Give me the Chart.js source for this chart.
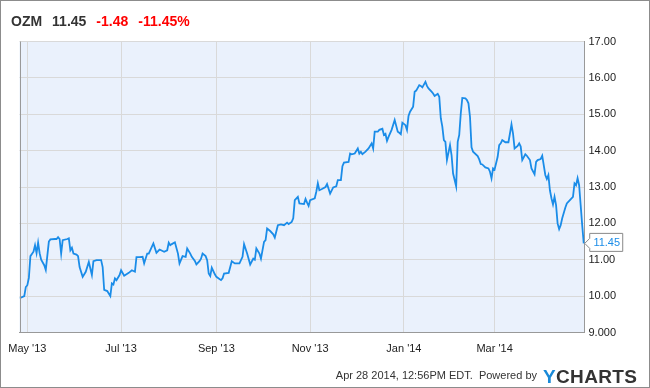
<!DOCTYPE html>
<html>
<head>
<meta charset="utf-8">
<script src="https://cdn.jsdelivr.net/npm/chart.js@4.4.1/dist/chart.umd.min.js"></script>
<style>
  html, body { margin: 0; padding: 0; background: #fff; }
  #wrap { width: 650px; height: 388px; position: relative; }
  canvas { display: block; }
</style>
</head>
<body>
<div id="wrap"><canvas id="c" width="650" height="388"></canvas></div>
<script>
// ---- data (x = days since May 1 2013) ----
const ticker = 'OZM';
const lastPrice = '11.45';
const change = '-1.48';
const changePct = '-11.45%';
const footerText = 'Apr 28 2014, 12:56PM EDT.  Powered by';

const days = [-5,-2,-1,0,1,2,4,5,6,7,8,9,11,12,14,15,18,19,20,21,22,23,26,27,28,29,30,32,33,34,36,38,40,42,43,45,48,49,50,52,54,55,56,57,58,60,61,63,66,68,70,71,73,75,76,78,79,82,84,86,87,89,91,92,93,94,96,98,99,101,103,104,106,107,109,110,112,113,114,116,117,118,119,120,122,123,126,127,128,131,133,135,138,140,141,143,145,147,148,149,151,152,154,155,156,158,160,161,163,165,167,169,170,172,173,174,176,177,180,181,182,183,184,187,188,189,190,192,194,195,197,199,201,202,204,205,206,209,210,211,213,215,216,217,218,220,222,224,225,226,228,229,231,232,233,234,235,237,239,241,242,243,244,246,247,248,249,251,252,253,255,256,257,259,260,261,263,264,265,267,268,269,270,271,272,273,275,276,277,279,280,281,282,283,285,286,287,288,289,290,293,294,295,296,298,300,301,302,303,304,306,307,308,309,311,313,314,315,316,317,319,320,321,322,324,325,327,328,330,331,332,334,335,337,338,339,340,341,342,343,344,345,346,347,348,350,351,353,355,356,357,358,359,360,361,362];

const prices = [9.94,10.0,10.25,10.3,10.5,11.1,11.22,11.4,11.18,11.47,11.18,11.0,10.85,10.72,11.5,11.56,11.57,11.57,11.62,11.57,11.17,11.54,11.57,11.59,11.26,11.33,11.17,11.14,11.1,10.8,10.53,10.67,10.94,10.58,10.96,10.99,10.99,10.8,10.17,10.14,10.0,10.35,10.32,10.49,10.44,10.58,10.71,10.56,10.64,10.71,10.67,11.07,11.07,11.08,10.9,11.17,11.17,11.45,11.19,11.28,11.26,11.22,11.26,11.47,11.4,11.43,11.48,11.17,10.9,11.1,11.08,11.31,11.17,11.08,10.97,10.87,10.96,11.03,11.17,11.1,10.99,10.62,10.55,10.78,10.6,10.53,10.44,10.49,10.62,10.64,10.96,10.9,10.9,11.08,11.43,11.17,10.87,11.03,11.0,11.31,11.17,11.03,11.49,11.54,11.86,11.79,11.7,11.61,11.95,11.97,11.95,12.02,11.98,12.04,12.14,12.64,12.73,12.55,12.53,12.67,12.57,12.48,12.64,12.69,12.87,13.1,12.91,12.95,13.0,13.08,12.82,12.99,13.02,13.19,13.19,13.57,13.67,13.69,13.92,13.9,13.92,14.06,13.92,13.97,13.9,13.97,14.06,14.2,14.06,14.52,14.52,14.57,14.6,14.43,14.46,14.27,14.38,14.57,14.84,14.52,14.49,14.45,14.77,14.7,14.57,14.95,15.07,15.21,15.62,15.65,15.8,15.78,15.74,15.89,15.78,15.71,15.62,15.57,15.5,15.56,15.48,14.89,14.66,14.29,14.24,13.74,14.15,13.88,13.37,13.02,14.24,14.43,15.02,15.45,15.44,15.39,15.3,14.93,14.09,13.97,13.85,13.76,13.63,13.62,13.54,13.51,13.42,13.24,13.51,13.48,13.83,14.15,14.2,14.29,14.23,14.23,14.47,14.72,14.47,14.06,14.13,14.2,14.11,13.74,13.9,13.86,13.74,13.51,13.35,13.69,13.74,13.77,13.86,13.33,13.22,13.33,12.91,12.69,12.52,12.73,12.5,12.0,11.84,11.95,12.14,12.43,12.55,12.64,12.73,13.1,13.05,13.24,13.05,12.5,11.95,11.45];

const xTickDays = [0, 61, 123, 184, 245, 304];
const xTickLabels = ["May '13", "Jul '13", "Sep '13", "Nov '13", "Jan '14", "Mar '14"];
const yTickValues = [9, 10, 11, 12, 13, 14, 15, 16, 17];
const yTickLabels = ['9.000', '10.00', '11.00', '12.00', '13.00', '14.00', '15.00', '16.00', '17.00'];

const FONT = '"Liberation Sans", Arial, sans-serif';

const decorPlugin = {
  id: 'decor',
  beforeDraw(chart) {
    const { ctx, chartArea: a } = chart;
    ctx.save();
    ctx.fillStyle = '#fff';
    ctx.fillRect(0, 0, chart.width, chart.height);
    ctx.fillStyle = '#eaf1fc';
    ctx.fillRect(a.left, a.top, a.right - a.left, a.bottom - a.top);
    ctx.restore();
  },
  afterDraw(chart) {
    const { ctx, chartArea: a } = chart;
    ctx.save();
    // left border of plot
    ctx.strokeStyle = '#999';
    ctx.lineWidth = 1;
    ctx.beginPath();
    ctx.moveTo(Math.round(a.left) + 0.5, a.top);
    ctx.lineTo(Math.round(a.left) + 0.5, a.bottom);
    ctx.stroke();
    // outer frame
    ctx.strokeStyle = '#8c8c8c';
    ctx.strokeRect(0.5, 0.5, chart.width - 1, chart.height - 1);

    // title
    ctx.font = 'bold 14px ' + FONT;
    ctx.textBaseline = 'alphabetic';
    ctx.textAlign = 'left';
    const parts = [[ticker, '#333'], [lastPrice, '#333'], [change, '#ff0000'], [changePct, '#ff0000']];
    let x = 11;
    parts.forEach(([t, c]) => {
      ctx.fillStyle = c;
      ctx.fillText(t, x, 26);
      x += ctx.measureText(t).width + 10;
    });

    // footer
    ctx.font = '11px ' + FONT;
    ctx.fillStyle = '#333';
    ctx.textAlign = 'right';
    ctx.fillText(footerText, 537, 379);
    ctx.textAlign = 'left';
    ctx.font = 'bold 19px ' + FONT;
    const logo = 'YCHARTS';
    let lx = 543;
    for (let i = 0; i < logo.length; i++) {
      ctx.fillStyle = i === 0 ? '#1a8ad8' : '#333';
      ctx.fillText(logo[i], lx, 383);
      lx += ctx.measureText(logo[i]).width + 0.35;
    }

    // last value callout
    const xs = chart.scales.x, ys = chart.scales.y;
    const px = xs.getPixelForValue(days[days.length - 1]);
    const py = ys.getPixelForValue(prices[prices.length - 1]);
    const bx = px + 6, bw = 33, top = py - 10, bot = py + 8;
    ctx.beginPath();
    ctx.moveTo(px + 1, py);
    ctx.lineTo(bx, py - 5);
    ctx.lineTo(bx, top);
    ctx.lineTo(bx + bw, top);
    ctx.lineTo(bx + bw, bot);
    ctx.lineTo(bx, bot);
    ctx.lineTo(bx, py + 5);
    ctx.closePath();
    ctx.fillStyle = '#fff';
    ctx.fill();
    ctx.strokeStyle = '#888';
    ctx.lineWidth = 1;
    ctx.stroke();
    ctx.font = '11px ' + FONT;
    ctx.fillStyle = '#1a8ce8';
    ctx.textAlign = 'center';
    ctx.textBaseline = 'middle';
    ctx.fillText(lastPrice, bx + bw / 2 + 0.5, (top + bot) / 2 + 0.5);
    ctx.restore();
  }
};

new Chart(document.getElementById('c'), {
  type: 'line',
  data: {
    datasets: [{
      data: days.map((d, i) => ({ x: d, y: prices[i] })),
      borderColor: '#1a8ce8',
      borderWidth: 1.8,
      pointRadius: 0,
      tension: 0,
      fill: false
    }]
  },
  options: {
    responsive: false,
    animation: false,
    events: [],
    layout: { padding: { left: 19.5, top: 41.5, right: 0, bottom: 0 } },
    plugins: { legend: { display: false }, tooltip: { enabled: false }, title: { display: false } },
    scales: {
      x: {
        type: 'linear',
        min: -5.1,
        max: 362.5,
        afterBuildTicks(scale) { scale.ticks = xTickDays.map(v => ({ value: v })); },
        afterFit(scale) { scale.height = 388 - 332.5; scale.paddingLeft = 0; scale.paddingRight = 0; },
        grid: { color: '#d9d9d9', drawTicks: false, lineWidth: 1 },
        border: { color: '#999', width: 1 },
        ticks: {
          autoSkip: false, maxRotation: 0, padding: 10,
          color: '#222', font: { family: FONT, size: 11 },
          callback: (v) => { const i = xTickDays.indexOf(v); return i >= 0 ? xTickLabels[i] : ''; }
        }
      },
      y: {
        position: 'right',
        min: 9,
        max: 17,
        afterBuildTicks(scale) { scale.ticks = yTickValues.map(v => ({ value: v })); },
        afterFit(scale) { scale.width = 650 - 584.5; scale.paddingTop = 0; scale.paddingBottom = 0; },
        grid: { color: '#d9d9d9', drawTicks: false, lineWidth: 1 },
        border: { color: '#999', width: 1 },
        ticks: {
          padding: 4,
          color: '#222', font: { family: FONT, size: 11 },
          callback: (v) => { const i = yTickValues.indexOf(v); return i >= 0 ? yTickLabels[i] : ''; }
        }
      }
    }
  },
  plugins: [decorPlugin]
});
</script>
</body>
</html>
